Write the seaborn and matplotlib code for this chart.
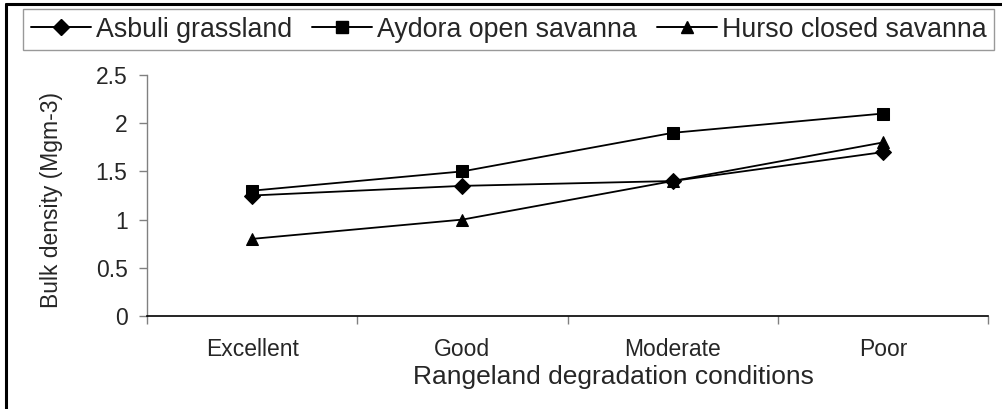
import pandas as pd
import matplotlib.pyplot as plt
import seaborn as sns
from matplotlib.lines import Line2D
from matplotlib.ticker import FixedLocator

# data
conditions = ['Excellent', 'Good', 'Moderate', 'Poor']
asbuli = [1.25, 1.35, 1.40, 1.70]
aydora = [1.30, 1.50, 1.90, 2.10]
hurso = [0.80, 1.00, 1.40, 1.80]
sites = ['Asbuli grassland', 'Aydora open savanna', 'Hurso closed savanna']
yticks = [0, 0.5, 1, 1.5, 2, 2.5]
ytick_labels = ['0', '0.5', '1', '1.5', '2', '2.5']

df = pd.DataFrame({
    'condition': conditions * 3,
    'density': asbuli + aydora + hurso,
    'site': [s for s in sites for _ in conditions],
})

sns.set_style('white')
plt.rcParams['font.family'] = ['Liberation Sans', 'DejaVu Sans']

W, H = 1003, 409
fig = plt.figure(figsize=(W / 100, H / 100), dpi=100)
ax = fig.add_axes([147 / W, 1 - 316 / H, (988 - 147) / W, (316 - 75) / H])

sns.lineplot(data=df, x='condition', y='density', hue='site', style='site',
             markers=['D', 's', '^'], dashes=False, palette=['black'] * 3,
             markersize=8, linewidth=1.3, markeredgecolor='black',
             legend=False, ax=ax, sort=False)

ax.set_xlim(-0.5, 3.5)
ax.set_ylim(0, 2.5)
ax.set_yticks(yticks)
ax.set_yticklabels(ytick_labels)
ax.set_xticks(range(len(conditions)))
ax.set_xticklabels(conditions)
ax.xaxis.set_minor_locator(FixedLocator([-0.5, 0.5, 1.5, 2.5, 3.5]))
ax.tick_params(axis='x', which='major', length=0, pad=16, labelsize=16.5)
ax.tick_params(axis='x', which='minor', length=6, width=1, color='#808080', direction='out', bottom=True)
ax.tick_params(axis='y', length=6, width=1, color='#808080', direction='out', left=True, pad=8, labelsize=16.5)

for side in ['top', 'right']:
    ax.spines[side].set_visible(False)
ax.spines['left'].set_color('#808080')
ax.spines['left'].set_linewidth(1)
ax.spines['bottom'].set_color('black')
ax.spines['bottom'].set_linewidth(1.2)

ax.set_xlabel('Rangeland degradation conditions', fontsize=19)
ax.xaxis.set_label_coords((613 - 147) / 841, (316 - 377) / 241)
ax.xaxis.label.set_va('center')
ax.set_ylabel('Bulk density (Mgm-3)', fontsize=16.5)
ax.yaxis.set_label_coords((51 - 147) / 841, 0.48)
ax.yaxis.label.set_va('center')

markers = ['D', 's', '^']
handles = [Line2D([], [], color='black', marker=m, markersize=8, linewidth=1.4)
           for m in markers]
leg = fig.legend(handles, sites, loc='upper left', ncol=3,
                 bbox_to_anchor=(23 / W, 1 - 9 / H),
                 borderaxespad=0, fontsize=19.3, handlelength=2.24,
                 handletextpad=0.19, columnspacing=0.75, borderpad=0.28,
                 frameon=True, fancybox=False, edgecolor='#808080')
leg.get_frame().set_linewidth(1)

# chart frame (left and top edges visible)
fig.add_artist(Line2D([6 / W, 6 / W], [0, 1 - 4 / H], color='black', linewidth=2.2,
                      transform=fig.transFigure))
fig.add_artist(Line2D([6 / W, 1], [1 - 4 / H, 1 - 4 / H], color='black', linewidth=2.2,
                      transform=fig.transFigure))

fig.savefig('out.png', dpi=100)
